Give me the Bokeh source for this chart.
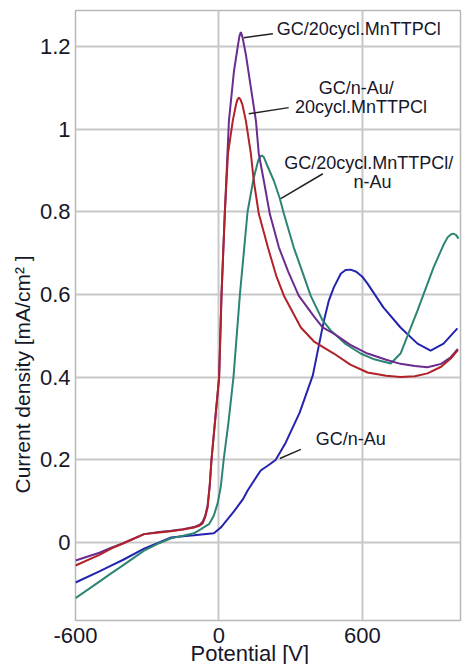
from bokeh.plotting import figure
from bokeh.models import Range1d, FixedTicker, Label, Title
from bokeh.embed import file_html
from bokeh.resources import INLINE

# ---- data ----
purple_x = [-600, -500, -450, -400, -313, -250, -200, -150, -104, -80, -68, -57, -47, -38, -31, -15, 1, 11, 25, 42, 63,
            79, 86, 92, 99, 113, 134, 155, 167, 188, 213, 251, 290, 334, 400, 434, 481, 550, 622, 700, 760, 820, 873,
            930, 970, 1000]
purple_y = [-0.044, -0.025, -0.013, -0.002, 0.02, 0.025, 0.028, 0.032, 0.037, 0.043, 0.05, 0.065, 0.09, 0.14, 0.2,
            0.3, 0.4, 0.6, 0.8, 1.02, 1.14, 1.2, 1.225, 1.235, 1.222, 1.18, 1.10, 1.02, 0.94, 0.875, 0.795, 0.714,
            0.655, 0.597, 0.545, 0.52, 0.505, 0.478, 0.457, 0.442, 0.432, 0.427, 0.424, 0.432, 0.448, 0.468]

red_x = [-600, -500, -451, -400, -313, -250, -200, -150, -104, -80, -68, -57, -47, -38, -31, -15, 1, 11, 25, 38, 58,
         72, 78, 84, 90, 98, 113, 134, 146, 167, 205, 240, 272, 343, 400, 481, 550, 622, 700, 760, 820, 873, 930, 970,
         1000]
red_y = [-0.056, -0.03, -0.015, -0.002, 0.02, 0.024, 0.027, 0.031, 0.036, 0.041, 0.046, 0.062, 0.085, 0.14, 0.2, 0.3,
         0.4, 0.6, 0.8, 0.94, 1.02, 1.06, 1.072, 1.076, 1.072, 1.06, 1.02, 0.94, 0.875, 0.795, 0.714, 0.645, 0.597,
         0.52, 0.485, 0.457, 0.43, 0.411, 0.403, 0.40, 0.402, 0.409, 0.425, 0.445, 0.465]

teal_x = [-600, -500, -451, -400, -313, -250, -200, -150, -104, -75, -40, -21, -5, 8, 20, 40, 61, 88, 120, 145, 165,
          174, 180, 188, 200, 230, 255, 272, 313, 343, 384, 434, 468, 530, 593, 650, 719, 760, 831, 898, 940, 957,
          970, 980, 992, 1003]
teal_y = [-0.135, -0.095, -0.075, -0.055, -0.02, -0.002, 0.01, 0.016, 0.022, 0.032, 0.045, 0.065, 0.095, 0.135, 0.2,
          0.29, 0.4, 0.6, 0.8, 0.88, 0.925, 0.934, 0.936, 0.932, 0.915, 0.875, 0.832, 0.795, 0.714, 0.665, 0.597,
          0.537, 0.513, 0.48, 0.457, 0.443, 0.433, 0.457, 0.561, 0.665, 0.72, 0.738, 0.745, 0.747, 0.744, 0.735]

blue_x = [-600, -500, -451, -400, -313, -250, -200, -150, -104, -21, 8, 35, 63, 100, 121, 142, 175, 213, 238, 280, 338,
          393, 430, 443, 460, 481, 510, 530, 551, 575, 600, 622, 689, 760, 831, 886, 940, 998]
blue_y = [-0.097, -0.07, -0.056, -0.042, -0.015, 0.0, 0.012, 0.015, 0.017, 0.022, 0.036, 0.055, 0.075, 0.104, 0.126,
          0.145, 0.174, 0.189, 0.2, 0.242, 0.314, 0.404, 0.51, 0.545, 0.585, 0.617, 0.65, 0.659, 0.66, 0.655, 0.643,
          0.626, 0.568, 0.52, 0.481, 0.464, 0.481, 0.518]

x_ticks = [-600, 0, 600]
y_ticks = [0, 0.2, 0.4, 0.6, 0.8, 1.0, 1.2]
y_tick_labels = ["0", "0.2", "0.4", "0.6", "0.8", "1", "1.2"]

FONT = "Liberation Sans"
TXT = "#17172a"

p = figure(width=463, height=664, output_backend="svg", toolbar_location=None,
           x_range=Range1d(-600, 1011), y_range=Range1d(-0.189, 1.287),
           min_border_left=75, min_border_right=3, min_border_top=10, min_border_bottom=44)
p.background_fill_color = "white"
p.border_fill_color = "white"
p.outline_line_color = "#b8b8b8"
p.outline_line_width = 1.5

p.xaxis.ticker = FixedTicker(ticks=x_ticks)
p.yaxis.ticker = FixedTicker(ticks=y_ticks)
p.yaxis.major_label_overrides = {t: l for t, l in zip(y_ticks, y_tick_labels)}
p.xaxis.major_label_overrides = {t: str(t) for t in x_ticks}
for ax in (p.xaxis, p.yaxis):
    ax.axis_line_color = None
    ax.major_tick_line_color = None
    ax.minor_tick_line_color = None
    ax.major_tick_out = 0
    ax.major_tick_in = 0
    ax.minor_tick_out = 0
    ax.major_label_text_font = FONT
    ax.major_label_text_font_size = "22px"
    ax.major_label_text_color = TXT
p.xaxis.major_label_standoff = 7
p.yaxis.major_label_standoff = 5

for g in (p.xgrid, p.ygrid):
    g.grid_line_color = "#c8c8c8"
    g.grid_line_width = 2

p.line(blue_x, blue_y, line_color="#2323b0", line_width=2)
p.line(teal_x, teal_y, line_color="#2e8474", line_width=2)
p.line(purple_x, purple_y, line_color="#6a2c8e", line_width=2)
p.line(red_x, red_y, line_color="#b02228", line_width=2)

# leader lines
lead_x0 = [104, 125, 259, 255]
lead_y0 = [1.221, 1.037, 0.832, 0.203]
lead_x1 = [226, 292, 435, 343]
lead_y1 = [1.231, 1.052, 0.892, 0.225]
p.segment(lead_x0, lead_y0, lead_x1, lead_y1, line_color="#222222", line_width=1.5)

def lab(x, y, text, align="left", size="18px"):
    p.add_layout(Label(x=x, y=y, text=text, text_font=FONT, text_font_size=size, text_color=TXT,
                       text_align=align, text_baseline="middle"))

lab(242, 1.243, "GC/20cycl.MnTTPCl")
lab(575, 1.100, "GC/n-Au/", align="center")
lab(595, 1.054, "20cycl.MnTTPCl", align="center")
lab(627, 0.919, "GC/20cycl.MnTTPCl/", align="center")
lab(643, 0.871, "n-Au", align="center")
lab(405, 0.249, "GC/n-Au")

p.add_layout(Title(text="Potential [V]", align="left", offset=115, standoff=-14,
                   text_font=FONT, text_font_size="22px", text_font_style="normal",
                   text_color=TXT), "below")
p.add_layout(Title(text="Current density [mA/cm² ]", align="left", offset=127, standoff=5,
                   text_font=FONT, text_font_size="21px", text_font_style="normal",
                   text_color=TXT), "left")

open("out.html", "w").write(file_html(p, INLINE))
